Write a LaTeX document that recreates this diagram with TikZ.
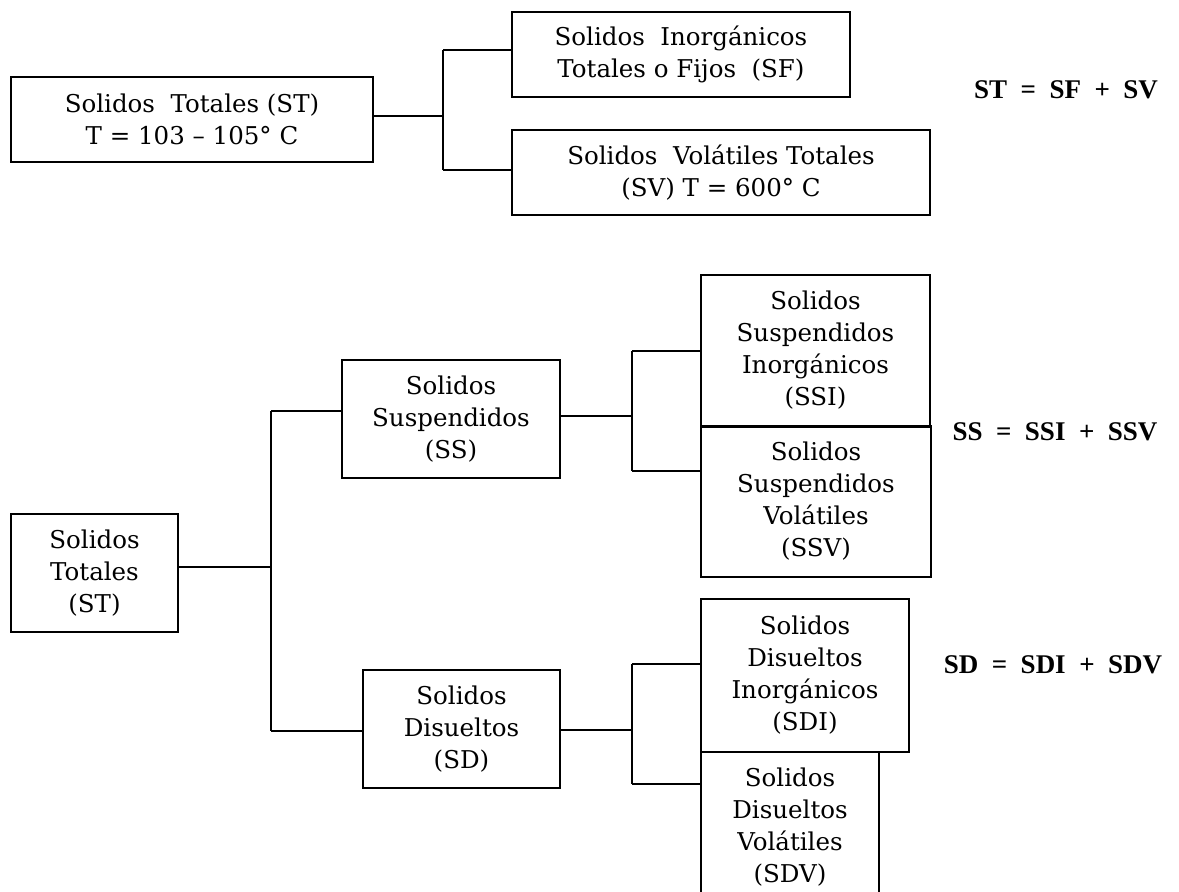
\documentclass[tikz,border=0pt]{standalone}
\usepackage{fontspec}
\newfontfamily\boxfont{DejaVu Serif}
\newfontfamily\eqfont{Liberation Serif}
\newcommand\eqsetup{\eqfont\bfseries\fontsize{27}{30}\selectfont\spaceskip 0.5em\relax}
\begin{document}
\begin{tikzpicture}[x=1pt,y=-1pt,
  box/.style={draw=black, line width=1.4pt, rectangle, inner sep=0pt, align=center,
    font=\boxfont\fontsize{24.5}{32}\selectfont},
  conn/.style={draw=black, line width=1.4pt},
  eqn/.style={inner sep=0pt, font=\eqsetup}]
\useasboundingbox (0,0) rectangle (1179,892);
\clip (0,0) rectangle (1179,892);
\fill[white] (0,0) rectangle (1179,892);
% top section
\node[box, minimum width=362, minimum height=85] (st1) at (192,119.5) {Solidos\ \ Totales (ST)\\T = 103 – 105° C};
\node[box, minimum width=338, minimum height=85] (sf) at (681,54.5) {Solidos\ \ Inorgánicos\\Totales o Fijos\ \ (SF)};
\node[box, minimum width=418, minimum height=85] (sv) at (721,172.5) {Solidos\ \ Volátiles Totales\\(SV) T = 600° C};
\node[eqn] (f1) at (1066,90) {ST = SF + SV};
\coordinate (j1) at (443,116);
\coordinate (j1a) at (443,50);
\coordinate (j1b) at (443,170);
\draw[conn] (st1.east |- j1) -- (j1);
\draw[conn] (j1a) -- (j1b);
\draw[conn] (j1a) -- (sf.west |- j1a);
\draw[conn] (j1b) -- (sv.west |- j1b);
% lower section
\node[box, minimum width=167, minimum height=118] (st2) at (94.5,573) {Solidos\\Totales\\(ST)};
\node[box, minimum width=218, minimum height=118] (ss) at (451,419) {Solidos\\Suspendidos\\(SS)};
\node[box, minimum width=197, minimum height=118] (sd) at (461.5,729) {Solidos\\Disueltos\\(SD)};
\node[box, minimum width=229, minimum height=151] (ssi) at (815.5,350.5) {Solidos\\Suspendidos\\Inorgánicos\\(SSI)};
\node[box, minimum width=230, minimum height=151] (ssv) at (816,501.5) {Solidos\\Suspendidos\\Volátiles\\(SSV)};
\node[box, minimum width=178, minimum height=150] (sdv) at (790,827) {Solidos\\Disueltos\\Volátiles\\(SDV)};
\node[box, fill=white, minimum width=208, minimum height=153] (sdi) at (805,675.5) {Solidos\\Disueltos\\Inorgánicos\\(SDI)};
\draw[line width=2.6pt] (ssi.south west) -- (ssi.south east);
\node[eqn] (f2) at (1055,432) {SS = SSI + SSV};
\node[eqn] (f3) at (1053,665) {SD = SDI + SDV};
\coordinate (j2) at (271,567);
\coordinate (j2a) at (271,411);
\coordinate (j2b) at (271,731);
\draw[conn] (st2.east |- j2) -- (j2);
\draw[conn] (j2a) -- (j2b);
\draw[conn] (j2a) -- (ss.west |- j2a);
\draw[conn] (j2b) -- (sd.west |- j2b);
\coordinate (j3) at (632,416);
\coordinate (j3a) at (632,351);
\coordinate (j3b) at (632,471);
\draw[conn] (ss.east |- j3) -- (j3);
\draw[conn] (j3a) -- (j3b);
\draw[conn] (j3a) -- (ssi.west |- j3a);
\draw[conn] (j3b) -- (ssv.west |- j3b);
\coordinate (j4) at (632,730);
\coordinate (j4a) at (632,664);
\coordinate (j4b) at (632,784);
\draw[conn] (sd.east |- j4) -- (j4);
\draw[conn] (j4a) -- (j4b);
\draw[conn] (j4a) -- (sdi.west |- j4a);
\draw[conn] (j4b) -- (sdv.west |- j4b);
\end{tikzpicture}
\end{document}
